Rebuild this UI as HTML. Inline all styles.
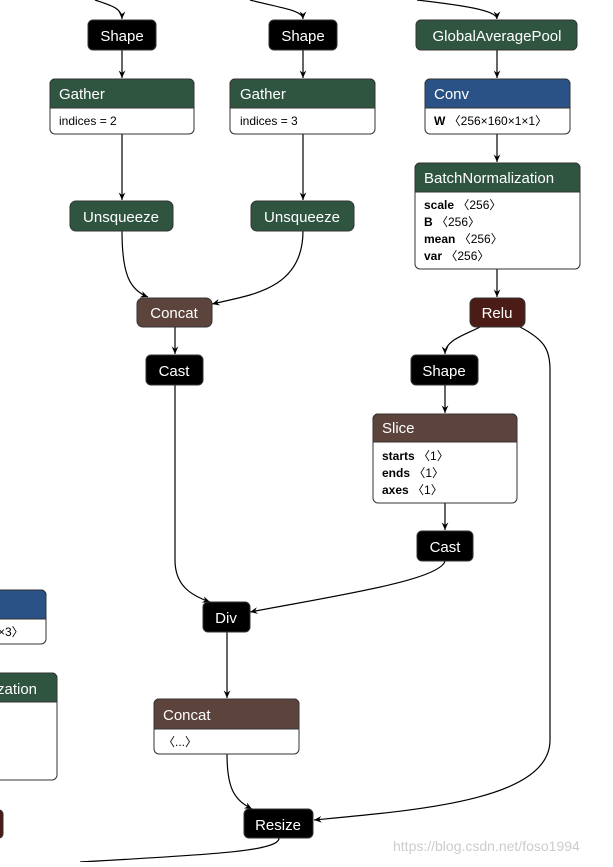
<!DOCTYPE html>
<html><head><meta charset="utf-8"><style>
body{margin:0;background:#fff;width:613px;height:862px;overflow:hidden}
text{font-family:"Liberation Sans","DejaVu Sans",sans-serif}
</style></head><body>
<svg width="613" height="862" viewBox="0 0 613 862" xmlns="http://www.w3.org/2000/svg">
<defs><marker id="a" viewBox="0 0 10 10" refX="9" refY="5" markerWidth="7" markerHeight="7" orient="auto"><path d="M0,1 L9,5 L0,9 L3,5z" fill="#000"/></marker></defs>
<g fill="none" stroke="#000" stroke-width="1.2" marker-end="url(#a)">
<path d="M95,0 C110,5 122,8 122,19"/>
<path d="M250,0 C280,8 303,10 303,19"/>
<path d="M417,0 C460,5 497,10 497,19"/>
<path d="M122,50 L122,78"/><path d="M303,50 L303,78"/><path d="M497,50 L497,78"/>
<path d="M497,134 L497,162"/>
<path d="M122,134 L122,200"/><path d="M303,134 L303,200"/>
<path d="M122,231 C122,275 130,290 148,297"/>
<path d="M303,231 C303,290 250,295 212,304"/>
<path d="M175,327 L175,354"/>
<path d="M497,269 L497,297"/>
<path d="M480,327 C465,335 445,340 445,354"/>
<path d="M445,385 L445,413"/>
<path d="M445,503 L445,530"/>
<path d="M175,385 L175,560 C175,585 190,595 210,602"/>
<path d="M445,561 C440,580 340,595 250,612"/>
<path d="M227,632 L227,698"/>
<path d="M227,754 C227,790 235,800 252,809"/>
<path d="M520,327 C545,340 550,350 550,370 L550,740 C550,800 420,810 314,820"/>
</g>
<path d="M279,838 C280,852 200,855 80,862" fill="none" stroke="#000" stroke-width="1.2"/>
<g stroke="#333" stroke-width="1">
<rect x="88" y="20" width="68" height="30" rx="5" fill="#000"/>
<rect x="269" y="20" width="68" height="30" rx="5" fill="#000"/>
<rect x="416" y="20" width="161" height="30" rx="5" fill="#2f5541"/>
<rect x="50" y="79" width="144" height="55" rx="5" fill="#fff"/>
<path d="M50,108 V84 a5,5 0 0 1 5,-5 H189 a5,5 0 0 1 5,5 V108z" fill="#2f5541"/>
<rect x="230" y="79" width="145" height="55" rx="5" fill="#fff"/>
<path d="M230,108 V84 a5,5 0 0 1 5,-5 H370 a5,5 0 0 1 5,5 V108z" fill="#2f5541"/>
<rect x="425" y="79" width="145" height="55" rx="5" fill="#fff"/>
<path d="M425,108 V84 a5,5 0 0 1 5,-5 H565 a5,5 0 0 1 5,5 V108z" fill="#2b5286"/>
<rect x="415" y="163" width="165" height="106" rx="5" fill="#fff"/>
<path d="M415,192 V168 a5,5 0 0 1 5,-5 H575 a5,5 0 0 1 5,5 V192z" fill="#2f5541"/>
<rect x="70" y="201" width="103" height="30" rx="6" fill="#2f5541"/>
<rect x="251" y="201" width="103" height="30" rx="6" fill="#2f5541"/>
<rect x="137" y="298" width="75" height="29" rx="6" fill="#5c433c"/>
<rect x="470" y="298" width="55" height="29" rx="6" fill="#4b1b16"/>
<rect x="146" y="355" width="57" height="30" rx="5" fill="#000"/>
<rect x="411" y="355" width="67" height="30" rx="5" fill="#000"/>
<rect x="373" y="414" width="144" height="89" rx="5" fill="#fff"/>
<path d="M373,442 V419 a5,5 0 0 1 5,-5 H512 a5,5 0 0 1 5,5 V442z" fill="#5c433c"/>
<rect x="417" y="531" width="56" height="30" rx="5" fill="#000"/>
<rect x="203" y="602" width="47" height="30" rx="5" fill="#000"/>
<rect x="154" y="699" width="145" height="55" rx="5" fill="#fff"/>
<path d="M154,729 V704 a5,5 0 0 1 5,-5 H294 a5,5 0 0 1 5,5 V729z" fill="#5c433c"/>
<rect x="244" y="809" width="69" height="29" rx="5" fill="#000"/>
<rect x="-20" y="590" width="66" height="54" rx="5" fill="#fff"/>
<path d="M-20,619 V590 H41 a5,5 0 0 1 5,5 V619z" fill="#2b5286"/>
<rect x="-20" y="673" width="77" height="107" rx="5" fill="#fff"/>
<path d="M-20,702 V673 H52 a5,5 0 0 1 5,5 V702z" fill="#2f5541"/>
<rect x="-10" y="810" width="13" height="28" rx="4" fill="#4b1b16"/>
</g>
<g fill="#fff" font-size="15">
<text x="122" y="41" text-anchor="middle">Shape</text>
<text x="303" y="41" text-anchor="middle">Shape</text>
<text x="497" y="41" text-anchor="middle">GlobalAveragePool</text>
<text x="59" y="99">Gather</text>
<text x="240" y="99">Gather</text>
<text x="434" y="99">Conv</text>
<text x="424" y="183">BatchNormalization</text>
<text x="121" y="222" text-anchor="middle">Unsqueeze</text>
<text x="302" y="222" text-anchor="middle">Unsqueeze</text>
<text x="174" y="318" text-anchor="middle">Concat</text>
<text x="497" y="318" text-anchor="middle">Relu</text>
<text x="174" y="376" text-anchor="middle">Cast</text>
<text x="444" y="376" text-anchor="middle">Shape</text>
<text x="382" y="433">Slice</text>
<text x="445" y="552" text-anchor="middle">Cast</text>
<text x="226" y="623" text-anchor="middle">Div</text>
<text x="163" y="720">Concat</text>
<text x="278" y="830" text-anchor="middle">Resize</text>
<text x="-3" y="694">zation</text>
</g>
<g fill="#000" font-size="12">
<text x="59" y="125">indices = 2</text>
<text x="240" y="125">indices = 3</text>
<text x="434" y="125"><tspan font-weight="bold">W</tspan> 〈256×160×1×1〉</text>
<text x="424" y="209"><tspan font-weight="bold">scale</tspan> 〈256〉</text>
<text x="424" y="226"><tspan font-weight="bold">B</tspan> 〈256〉</text>
<text x="424" y="243"><tspan font-weight="bold">mean</tspan> 〈256〉</text>
<text x="424" y="260"><tspan font-weight="bold">var</tspan> 〈256〉</text>
<text x="382" y="460"><tspan font-weight="bold">starts</tspan> 〈1〉</text>
<text x="382" y="477"><tspan font-weight="bold">ends</tspan> 〈1〉</text>
<text x="382" y="494"><tspan font-weight="bold">axes</tspan> 〈1〉</text>
<text x="163" y="746">〈...〉</text>
<text x="-2" y="636">×3〉</text>
</g>
<text x="393" y="851" font-size="14" fill="#ccc">https://blog.csdn.net/foso1994</text>
</svg>
</body></html>
